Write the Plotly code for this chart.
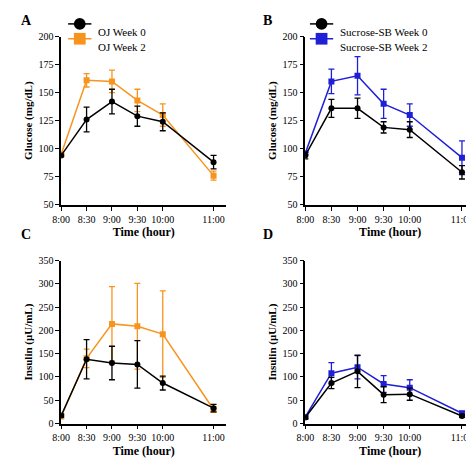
import plotly.graph_objects as go

times = [0, 30, 60, 90, 120, 180]
tick_labels = ["8:00", "8:30", "9:00", "9:30", "10:00", "11:00"]

oj_glu_w0 = [94, 126, 142, 129, 124, 88]
oj_glu_w0_err = [1, 11, 11, 9, 8, 6]
oj_glu_w2 = [95, 161, 160, 143, 130, 76]
oj_glu_w2_err = [1, 6, 10, 10, 10, 4]

sb_glu_w0 = [94, 136, 136, 119, 117, 79]
sb_glu_w0_err = [3, 8, 9, 5, 7, 6]
sb_glu_w2 = [96, 160, 165, 140, 130, 92]
sb_glu_w2_err = [1, 11, 17, 13, 10, 15]

oj_ins_w0 = [17, 138, 130, 127, 87, 33]
oj_ins_w0_err = [3, 42, 36, 51, 15, 8]
oj_ins_w2 = [15, 140, 214, 209, 192, 30]
oj_ins_w2_err = [3, 20, 80, 92, 93, 6]

sb_ins_w0 = [13, 87, 112, 62, 63, 16]
sb_ins_w0_err = [3, 12, 35, 17, 13, 3]
sb_ins_w2 = [14, 108, 121, 85, 77, 22]
sb_ins_w2_err = [3, 23, 25, 18, 17, 4]

BLACK = "#000000"
ORANGE = "#F7941D"
BLUE = "#1F1FD6"
FONT = "Liberation Serif"

fig = go.Figure()

panels = [
    ("", [0.095, 0.45], [0.576, 0.95],
     [("OJ Week 0", oj_glu_w0, oj_glu_w0_err, BLACK, "circle"),
      ("OJ Week 2", oj_glu_w2, oj_glu_w2_err, ORANGE, "square")],
     [50, 200], 25, "Glucose (mg/dL)"),
    ("2", [0.62, 0.985], [0.576, 0.95],
     [("Sucrose-SB Week 0", sb_glu_w0, sb_glu_w0_err, BLACK, "circle"),
      ("Sucrose-SB Week 2", sb_glu_w2, sb_glu_w2_err, BLUE, "square")],
     [50, 200], 25, "Glucose (mg/dL)"),
    ("3", [0.095, 0.45], [0.09, 0.452],
     [("OJ Week 0", oj_ins_w0, oj_ins_w0_err, BLACK, "circle"),
      ("OJ Week 2", oj_ins_w2, oj_ins_w2_err, ORANGE, "square")],
     [0, 350], 50, "Insulin (μU/mL)"),
    ("4", [0.62, 0.985], [0.09, 0.452],
     [("Sucrose-SB Week 0", sb_ins_w0, sb_ins_w0_err, BLACK, "circle"),
      ("Sucrose-SB Week 2", sb_ins_w2, sb_ins_w2_err, BLUE, "square")],
     [0, 350], 50, "Insulin (μU/mL)"),
]

layout = {}
for sfx, xd, yd, series, yr, dt, ytitle in panels:
    # week 2 drawn under week 0
    for name, y, err, color, sym in reversed(series):
        fig.add_trace(go.Scatter(
            x=times, y=y, name=name, mode="lines+markers",
            xaxis="x" + sfx, yaxis="y" + sfx,
            line=dict(color=color, width=1.5),
            marker=dict(color=color, symbol=sym, size=6),
            error_y=dict(type="data", array=err, color=color, thickness=1.3, width=3),
            showlegend=False,
        ))
    axis_common = dict(showline=True, linecolor="black", linewidth=1.5, ticks="outside",
                       ticklen=4, tickcolor="black", showgrid=False, zeroline=False,
                       tickfont=dict(family=FONT, size=10, color="black"))
    layout["xaxis" + sfx] = dict(axis_common, domain=xd, anchor="y" + sfx, range=[0, 195],
                                 tickvals=times, ticktext=tick_labels,
                                 title=dict(text="<b>Time (hour)</b>", font=dict(family=FONT, size=12, color="black"), standoff=4))
    layout["yaxis" + sfx] = dict(axis_common, domain=yd, anchor="x" + sfx, range=yr, dtick=dt,
                                 title=dict(text="<b>" + ytitle + "</b>", font=dict(family=FONT, size=11, color="black"), standoff=4))

# legend samples as paper shapes
leg = [
    (0.17, 0.978, "OJ Week 0", BLACK, "circle"),
    (0.17, 0.945, "OJ Week 2", ORANGE, "square"),
    (0.69, 0.978, "Sucrose-SB Week 0", BLACK, "circle"),
    (0.69, 0.945, "Sucrose-SB Week 2", BLUE, "square"),
]
shapes = []
for lx, ly, name, color, sym in leg:
    shapes.append(dict(type="line", xref="paper", yref="paper", x0=lx - 0.06, x1=lx - 0.01,
                       y0=ly, y1=ly, line=dict(color=color, width=1.5)))
    cx = lx - 0.035
    dx, dy = 6 / 474, 6 / 462
    shapes.append(dict(type="circle" if sym == "circle" else "rect", xref="paper", yref="paper",
                       x0=cx - dx, x1=cx + dx, y0=ly - dy, y1=ly + dy,
                       fillcolor=color, line=dict(color=color, width=0)))
    fig.add_annotation(x=lx, y=ly, xref="paper", yref="paper", text=name, showarrow=False,
                       xanchor="left", font=dict(family=FONT, size=11, color="black"))

for lbl, x, y in [("A", 0.005, 0.985), ("B", 0.525, 0.985), ("C", 0.005, 0.51), ("D", 0.525, 0.51)]:
    fig.add_annotation(x=x, y=y, xref="paper", yref="paper", text="<b>" + lbl + "</b>", showarrow=False,
                       xanchor="left", yanchor="middle", font=dict(family=FONT, size=14, color="black"))

fig.update_layout(width=474, height=462, margin=dict(l=0, r=0, t=0, b=0),
                  paper_bgcolor="white", plot_bgcolor="white", shapes=shapes, **layout)

fig.write_html("out.html")
